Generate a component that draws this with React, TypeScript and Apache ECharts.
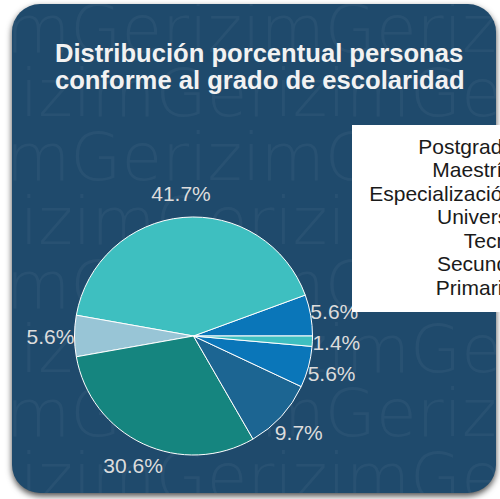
import React, { useEffect, useRef } from "react";
import * as echarts from "echarts";

// ---- data ----
const categories = ["Primaria", "Secund.", "Tecn.", "Univers.", "Especialización", "Maestría", "Postgrado"];
const percentages = [5.6, 41.7, 5.6, 30.6, 9.7, 5.6, 1.4];
const legendOrder = ["Postgrado", "Maestría", "Especialización", "Univers.", "Tecn.", "Secund.", "Primaria"];
const palette = ["#0a76b9", "#3ebfc0", "#98c5d6", "#15857f", "#1c6592"];
const titleText = "Distribución porcentual personas\nconforme al grado de escolaridad";
const watermarkWord = "Gerizim";

const FONT = "'Liberation Sans', Arial, Helvetica, sans-serif";

export default function App() {
  const ref = useRef<HTMLDivElement>(null);

  useEffect(() => {
    if (!ref.current) return;
    const chart = echarts.init(ref.current, undefined, { renderer: "svg" });
    const data = categories.map((name, i) => ({ name, value: percentages[i] }));
    const option: any = {
      animation: false,
      color: palette,
      title: {
        text: titleText,
        left: 55,
        top: 39.5,
        padding: 0,
        textStyle: {
          color: "#f2f2f2",
          fontSize: 25.6,
          fontWeight: "bold",
          fontFamily: FONT,
          lineHeight: 27,
        },
      },
      legend: {
        orient: "vertical",
        left: 352,
        top: 125,
        padding: [9.25, 20, 13.25, 10],
        itemGap: 0,
        align: "right",
        icon: "rect",
        itemWidth: 14,
        itemHeight: 23.5,
        itemStyle: { borderWidth: 0 },
        backgroundColor: "#ffffff",
        borderWidth: 0,
        selectedMode: false,
        data: legendOrder,
        formatter: "{a|{name}}",
        textStyle: {
          rich: {
            a: {
              width: 152,
              align: "right",
              fontSize: 21,
              lineHeight: 23.5,
              color: "#1a1a1a",
              fontFamily: FONT,
            },
          },
        },
      },
      series: [
        {
          type: "pie",
          center: [193.5, 336],
          radius: [0, 119],
          startAngle: 0,
          clockwise: false,
          data,
          silent: true,
          label: { show: false },
          labelLine: { show: false },
          itemStyle: { borderColor: "#ffffff", borderWidth: 1 },
          emphasis: { disabled: true },
        },
        {
          type: "pie",
          center: [193.5, 336],
          radius: [119, 161],
          startAngle: 0,
          clockwise: false,
          data,
          silent: true,
          legendHoverLink: false,
          itemStyle: { color: "transparent", borderWidth: 0 },
          label: {
            show: true,
            position: "inside",
            formatter: "{c}%",
            color: "#dcdcdc",
            fontSize: 21,
            fontFamily: FONT,
          },
          labelLine: { show: false },
          emphasis: { disabled: true },
        },
      ],
    };
    chart.setOption(option);
    return () => chart.dispose();
  }, []);

  const rows = Array.from({ length: 8 }, (_, i) => i);

  return (
    <div style={{ position: "absolute", left: 0, top: 0, width: 500, height: 499, overflow: "hidden", background: "#ffffff" }}>
      <div
        style={{
          position: "absolute",
          left: 12,
          top: 4,
          width: 484,
          height: 489,
          borderRadius: 28,
          background: "#1f4a6c",
          boxShadow: "0 3px 6px rgba(0,0,0,0.7)",
          overflow: "hidden",
        }}
      >
        {rows.map((i) => (
          <div
            key={i}
            style={{
              position: "absolute",
              left: i % 2 === 0 ? -6 : 8,
              top: i * 64 - 6,
              height: 64,
              lineHeight: "64px",
              whiteSpace: "nowrap",
              fontFamily: "'DejaVu Sans', sans-serif",
              fontWeight: 200,
              fontSize: 66,
              color: "rgba(255,255,255,0.045)",
            }}
          >
            {(i % 2 === 0 ? "m" : "izim") + watermarkWord.repeat(4)}
          </div>
        ))}
      </div>
      <div ref={ref} style={{ position: "absolute", left: 0, top: 0, width: 500, height: 499 }} />
    </div>
  );
}
